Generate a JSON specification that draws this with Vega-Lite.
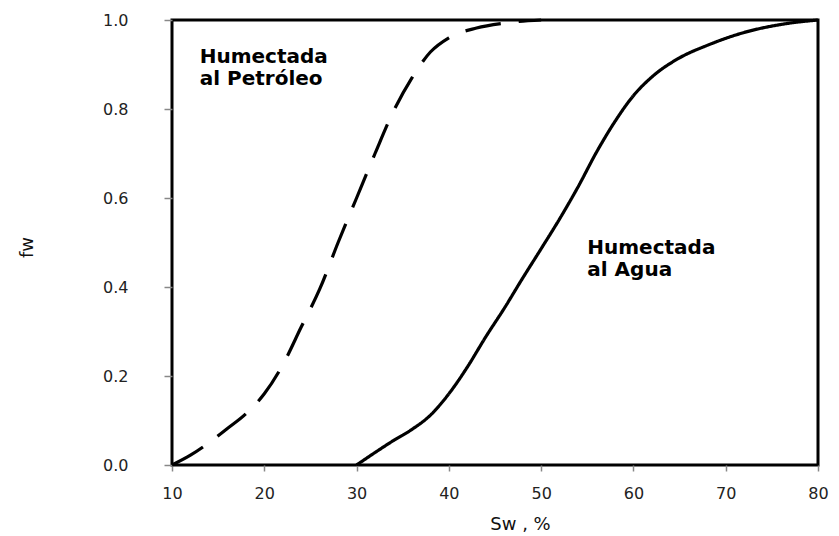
{
  "$schema": "https://vega.github.io/schema/vega-lite/v6.json",
  "width": 646,
  "height": 445,
  "autosize": {"type": "none"},
  "padding": {"left": 172, "top": 20, "right": 21, "bottom": 71},
  "background": "white",
  "config": {
    "view": {"stroke": "black", "strokeWidth": 3},
    "axis": {
      "grid": false,
      "domain": false,
      "tickColor": "#888888",
      "tickWidth": 1.5,
      "labelFont": "DejaVu Sans",
      "labelFontSize": 16,
      "labelColor": "#222222",
      "titleFont": "DejaVu Sans",
      "titleFontSize": 18,
      "titleFontWeight": "normal",
      "titleColor": "#111111"
    }
  },
  "datasets": {
    "curves": [
      {"sw": 10, "fw": 0.0, "mojado": "Petróleo"},
      {"sw": 12, "fw": 0.022, "mojado": "Petróleo"},
      {"sw": 14, "fw": 0.05, "mojado": "Petróleo"},
      {"sw": 16, "fw": 0.082, "mojado": "Petróleo"},
      {"sw": 18, "fw": 0.115, "mojado": "Petróleo"},
      {"sw": 20, "fw": 0.16, "mojado": "Petróleo"},
      {"sw": 22, "fw": 0.225, "mojado": "Petróleo"},
      {"sw": 24, "fw": 0.31, "mojado": "Petróleo"},
      {"sw": 26, "fw": 0.395, "mojado": "Petróleo"},
      {"sw": 28, "fw": 0.5, "mojado": "Petróleo"},
      {"sw": 30, "fw": 0.6, "mojado": "Petróleo"},
      {"sw": 32, "fw": 0.7, "mojado": "Petróleo"},
      {"sw": 34, "fw": 0.795, "mojado": "Petróleo"},
      {"sw": 36, "fw": 0.87, "mojado": "Petróleo"},
      {"sw": 38, "fw": 0.928, "mojado": "Petróleo"},
      {"sw": 40, "fw": 0.96, "mojado": "Petróleo"},
      {"sw": 43, "fw": 0.982, "mojado": "Petróleo"},
      {"sw": 46, "fw": 0.993, "mojado": "Petróleo"},
      {"sw": 50, "fw": 1.0, "mojado": "Petróleo"},
      {"sw": 30, "fw": 0.0, "mojado": "Agua"},
      {"sw": 32, "fw": 0.028, "mojado": "Agua"},
      {"sw": 34, "fw": 0.055, "mojado": "Agua"},
      {"sw": 36, "fw": 0.08, "mojado": "Agua"},
      {"sw": 38, "fw": 0.112, "mojado": "Agua"},
      {"sw": 40, "fw": 0.16, "mojado": "Agua"},
      {"sw": 42, "fw": 0.22, "mojado": "Agua"},
      {"sw": 44, "fw": 0.288, "mojado": "Agua"},
      {"sw": 46, "fw": 0.352, "mojado": "Agua"},
      {"sw": 48, "fw": 0.42, "mojado": "Agua"},
      {"sw": 50, "fw": 0.486, "mojado": "Agua"},
      {"sw": 52, "fw": 0.553, "mojado": "Agua"},
      {"sw": 54, "fw": 0.625, "mojado": "Agua"},
      {"sw": 56, "fw": 0.703, "mojado": "Agua"},
      {"sw": 58, "fw": 0.772, "mojado": "Agua"},
      {"sw": 60, "fw": 0.83, "mojado": "Agua"},
      {"sw": 62, "fw": 0.872, "mojado": "Agua"},
      {"sw": 65, "fw": 0.915, "mojado": "Agua"},
      {"sw": 68, "fw": 0.943, "mojado": "Agua"},
      {"sw": 72, "fw": 0.972, "mojado": "Agua"},
      {"sw": 76, "fw": 0.99, "mojado": "Agua"},
      {"sw": 80, "fw": 1.0, "mojado": "Agua"}
    ],
    "etiquetas": [
      {"sw": 13.0, "fw": 0.94, "texto": ["Humectada", "al Petróleo"]},
      {"sw": 55.0, "fw": 0.51, "texto": ["Humectada", "al Agua"]}
    ]
  },
  "layer": [
    {
      "data": {"name": "curves"},
      "mark": {"type": "line", "interpolate": "monotone", "color": "black", "strokeWidth": 3.2},
      "encoding": {
        "x": {
          "field": "sw",
          "type": "quantitative",
          "scale": {"domain": [10, 80], "nice": false, "zero": false},
          "axis": {
            "values": [10, 20, 30, 40, 50, 60, 70, 80],
            "tickSize": 6,
            "labelPadding": 14,
            "labelFlush": false,
            "title": "Sw , %",
            "titleX": 348,
            "titleY": 64,
            "titleBaseline": "alphabetic"
          }
        },
        "y": {
          "field": "fw",
          "type": "quantitative",
          "scale": {"domain": [0, 1], "nice": false},
          "axis": {
            "values": [0, 0.2, 0.4, 0.6, 0.8, 1.0],
            "format": ".1f",
            "tickSize": 8,
            "labelPadding": 36,
            "labelFlush": false,
            "title": "fw",
            "titleX": -136,
            "titleY": 227,
            "titleAngle": -90
          }
        },
        "strokeDash": {
          "field": "mojado",
          "type": "nominal",
          "scale": {"domain": ["Petróleo", "Agua"], "range": [[36, 18], [1, 0]]},
          "legend": null
        }
      }
    },
    {
      "data": {"name": "etiquetas"},
      "mark": {
        "type": "text",
        "align": "left",
        "baseline": "top",
        "font": "DejaVu Sans",
        "fontWeight": "bold",
        "fontSize": 20,
        "lineHeight": 22,
        "color": "black"
      },
      "encoding": {
        "x": {"field": "sw", "type": "quantitative"},
        "y": {"field": "fw", "type": "quantitative"},
        "text": {"field": "texto"}
      }
    }
  ]
}
